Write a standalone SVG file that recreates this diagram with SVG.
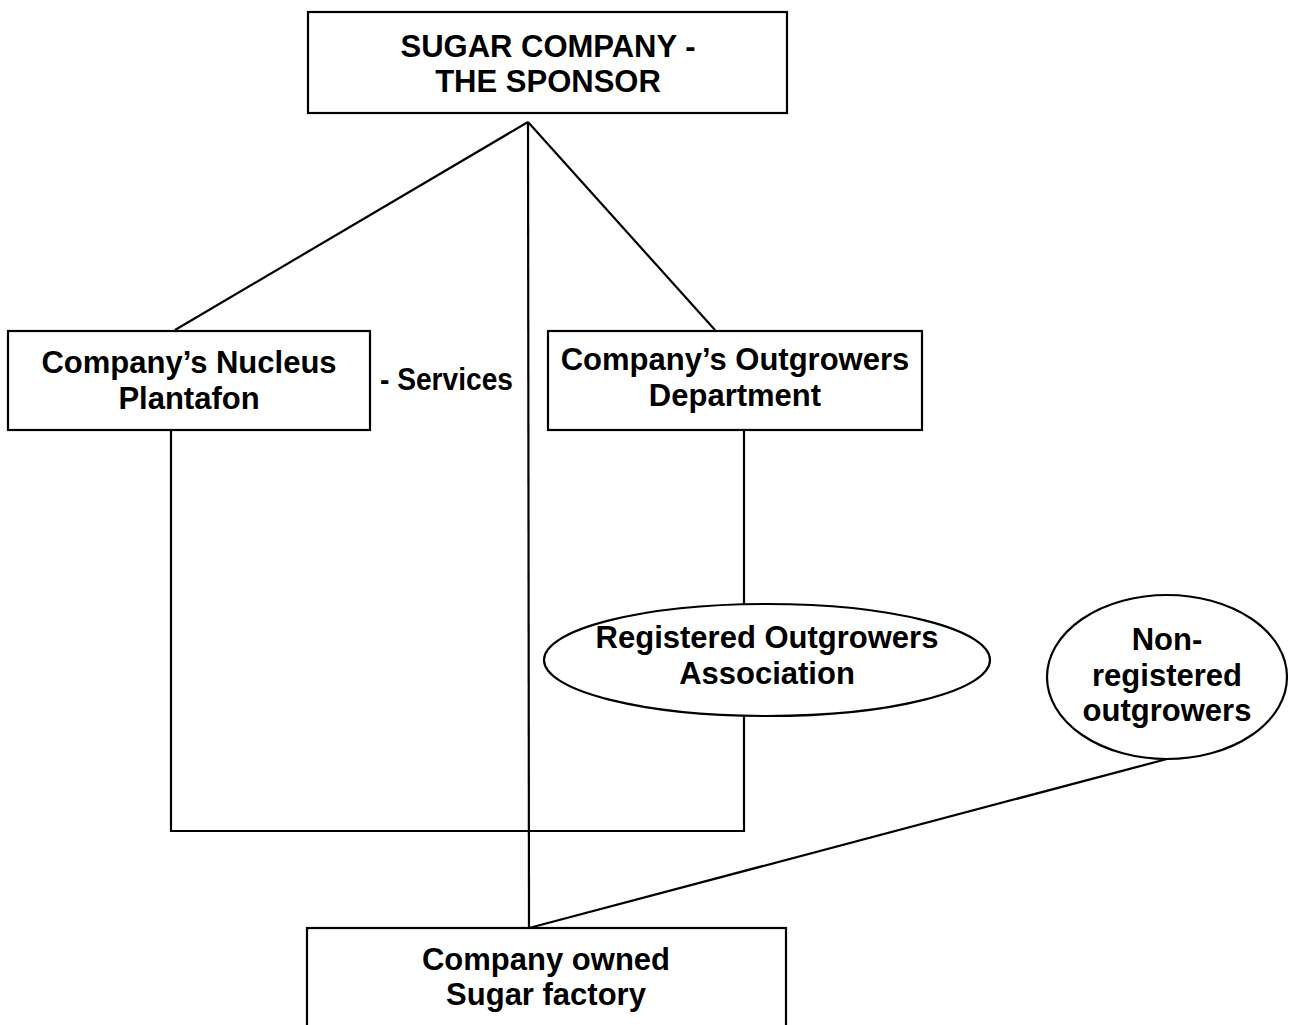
<svg xmlns="http://www.w3.org/2000/svg" width="1290" height="1025" viewBox="0 0 1290 1025">
<style>
.box{fill:#fff;stroke:#000;stroke-width:2.2}
.ln{fill:none;stroke:#000;stroke-width:2.2}
.t{font-family:"Liberation Sans",Arial,sans-serif;font-weight:bold;font-size:31px;fill:#000;text-anchor:middle}
</style>
<rect width="1290" height="1025" fill="#fff"/>
<g id="connectors">
<line class="ln" x1="528" y1="122" x2="175" y2="330"/>
<line class="ln" x1="528" y1="122" x2="715" y2="330"/>
<line class="ln" x1="528" y1="122" x2="529" y2="928"/>
<polyline class="ln" points="171,430 171,831 744,831 744,716"/>
<line class="ln" x1="744" y1="430" x2="744" y2="604"/>
<line class="ln" x1="1167" y1="759" x2="529" y2="928"/>
</g>
<g id="sponsor">
<rect class="box" x="308" y="12" width="479" height="101"/>
<text class="t" x="548" y="57">SUGAR COMPANY -</text>
<text class="t" x="548" y="92">THE SPONSOR</text>
</g>
<g id="nucleus">
<rect class="box" x="8" y="331" width="362" height="99"/>
<text class="t" x="189" y="373">Company’s Nucleus</text>
<text class="t" x="189" y="409">Plantafon</text>
</g>
<g id="services">
<text class="t" x="380" y="390" style="text-anchor:start" textLength="133" lengthAdjust="spacingAndGlyphs">- Services</text>
</g>
<g id="outgrowers-dept">
<rect class="box" x="548" y="331" width="374" height="99"/>
<text class="t" x="735" y="370">Company’s Outgrowers</text>
<text class="t" x="735" y="406">Department</text>
</g>
<g id="registered">
<ellipse class="box" cx="767" cy="660" rx="223" ry="56"/>
<text class="t" x="767" y="648">Registered Outgrowers</text>
<text class="t" x="767" y="684">Association</text>
</g>
<g id="nonregistered">
<ellipse class="box" cx="1167" cy="677" rx="120" ry="82"/>
<text class="t" x="1167" y="650">Non-</text>
<text class="t" x="1167" y="686">registered</text>
<text class="t" x="1167" y="721">outgrowers</text>
</g>
<g id="factory">
<rect class="box" x="307" y="928" width="479" height="110"/>
<text class="t" x="546" y="970">Company owned</text>
<text class="t" x="546" y="1005">Sugar factory</text>
</g>
</svg>
